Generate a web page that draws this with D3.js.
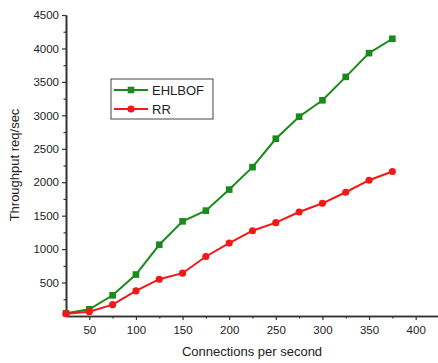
<!DOCTYPE html>
<html>
<head>
<meta charset="utf-8">
<script src="https://cdn.jsdelivr.net/npm/d3@7"></script>
<style>
  body { margin: 0; background: #fff; }
  text { font-family: "Liberation Sans", Arial, sans-serif; }
</style>
</head>
<body>
<script>
var width = 438,
    height = 363;

// data
var connections = [25, 50, 75, 100, 125, 150, 175, 200, 225, 250, 275, 300, 325, 350, 375];
var ehlbof = [40, 100, 310, 620, 1065, 1415, 1575, 1890, 2225, 2650, 2980, 3225, 3575, 3930, 4145];
var rr = [35, 65, 170, 375, 550, 640, 890, 1090, 1275, 1395, 1555, 1685, 1850, 2030, 2160];
var xTicks = [50, 100, 150, 200, 250, 300, 350, 400];
var yTicks = [500, 1000, 1500, 2000, 2500, 3000, 3500, 4000, 4500];

var svg = d3.select("body").append("svg")
    .attr("width", width)
    .attr("height", height)

var x = d3.scaleLinear().domain([25, 425]).range([66, 439])
var y = d3.scaleLinear().domain([0, 4500]).range([316, 15])

/* axes */
var xAxis = svg.append("g")
    .attr("transform", "translate(0," + y(0) + ")")
    .call(d3.axisBottom(x).tickValues(xTicks).tickFormat(d3.format("d")).tickSize(4).tickSizeOuter(0))
var yAxis = svg.append("g")
    .attr("transform", "translate(" + x(25) + ",0)")
    .call(d3.axisLeft(y).tickValues(yTicks).tickFormat(d3.format("d")).tickSize(4).tickSizeOuter(0))

// minor ticks
svg.append("g")
    .attr("transform", "translate(0," + y(0) + ")")
    .call(d3.axisBottom(x).tickValues(d3.range(75, 425, 50)).tickSize(2.5).tickFormat("").tickSizeOuter(0))
svg.append("g")
    .attr("transform", "translate(" + x(25) + ",0)")
    .call(d3.axisLeft(y).tickValues(d3.range(250, 4500, 500)).tickSize(2.5).tickFormat("").tickSizeOuter(0))

svg.selectAll(".domain").attr("stroke", "#333").attr("stroke-width", 1.6)
svg.selectAll(".tick line").attr("stroke", "#333").attr("stroke-width", 1.2)
svg.selectAll(".tick text").attr("font-size", 11.5).attr("fill", "#222")
xAxis.selectAll(".tick text").attr("dy", "0.95em")

svg.append("text")
    .attr("x", 252)
    .attr("y", 356)
    .attr("text-anchor", "middle")
    .attr("font-size", 13)
    .attr("fill", "#222")
    .text("Connections per second")

svg.append("text")
    .attr("transform", "translate(19,165) rotate(-90)")
    .attr("text-anchor", "middle")
    .attr("font-size", 13)
    .attr("fill", "#222")
    .text("Throughput req/sec")

/* series */
var series = [
  { name: "EHLBOF", values: ehlbof, c: "#1a8a1a", shape: "square" },
  { name: "RR", values: rr, c: "#f21818", shape: "circle" }
]

var line = d3.line()
    .x(function (d) { return x(d[0]) })
    .y(function (d) { return y(d[1]) })

series.forEach(function (s) {
  var pts = connections.map(function (c, i) { return [c, s.values[i]] })
  svg.append("path")
    .datum(pts)
    .attr("d", line)
    .attr("fill", "none")
    .attr("stroke", s.c)
    .attr("stroke-width", 2)
  var sym = d3.symbol().type(s.shape == "square" ? d3.symbolSquare : d3.symbolCircle)
      .size(s.shape == "square" ? 44 : 40)
  svg.selectAll(null)
    .data(pts)
    .enter()
    .append("path")
    .attr("d", sym)
    .attr("transform", function (d) { return "translate(" + x(d[0]) + "," + y(d[1]) + ")" })
    .attr("fill", s.c)
})

/* legend */
var legend = svg.append("g")
legend.append("rect")
    .attr("x", 111).attr("y", 79)
    .attr("width", 102).attr("height", 40)
    .attr("fill", "#fff")
    .attr("stroke", "#444")
    .attr("stroke-width", 1)

var elem = legend.selectAll("g.item")
    .data(series)
    .enter()
    .append("g")
    .attr("transform", function (d, i) { return "translate(0," + (90 + i * 19) + ")" })

elem.append("line")
    .attr("x1", 114).attr("x2", 148)
    .attr("stroke", function (d) { return d.c })
    .attr("stroke-width", 2)
elem.append("path")
    .attr("d", function (d) {
      return d3.symbol().type(d.shape == "square" ? d3.symbolSquare : d3.symbolCircle)
        .size(d.shape == "square" ? 44 : 40)()
    })
    .attr("transform", "translate(131,0)")
    .attr("fill", function (d) { return d.c })
elem.append("text")
    .attr("x", 152)
    .attr("dy", "0.36em")
    .attr("font-size", 13)
    .attr("fill", "#222")
    .text(function (d) { return d.name })
</script>
</body>
</html>
